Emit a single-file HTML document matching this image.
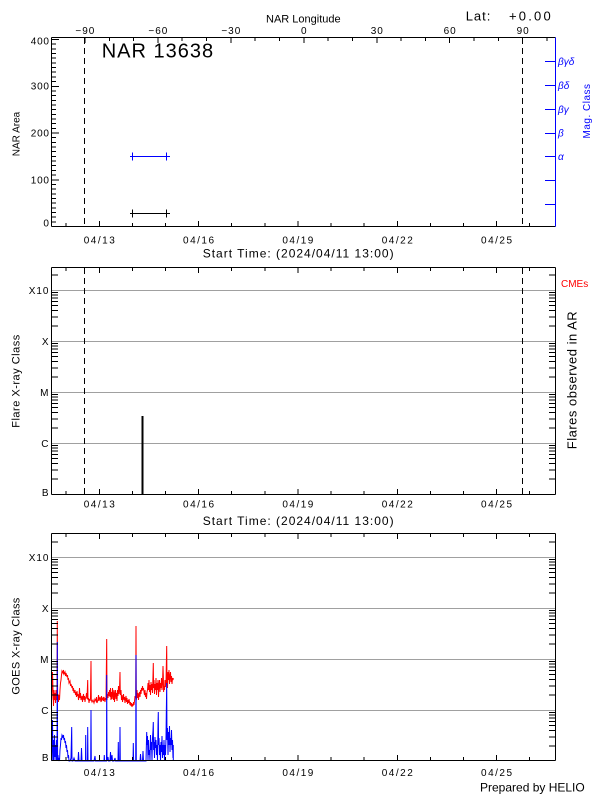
<!DOCTYPE html>
<html><head><meta charset="utf-8"><style>html,body{margin:0;padding:0;background:#fff}svg{display:block}</style></head>
<body>
<svg xmlns="http://www.w3.org/2000/svg" width="600" height="800" viewBox="0 0 600 800" font-family="Liberation Sans, sans-serif">
<rect width="600" height="800" fill="#fff"/>

<!-- ================= TOP PANEL ================= -->
<g shape-rendering="crispEdges" stroke="#000" stroke-width="1" fill="none">
  <path d="M51.5 37.5V226.5M51.5 37.5H555.5M51.5 226.5H555.5"/>
  <!-- y ticks -->
  <path d="M52 226.5h7M52 221.8h4M52 217.2h4M52 212.5h4M52 207.8h4M52 203.1h4M52 198.5h4M52 193.8h4M52 189.1h4M52 184.4h4M52 179.75h7M52 175.1h4M52 170.4h4M52 165.7h4M52 161h4M52 156.4h4M52 151.7h4M52 147h4M52 142.3h4M52 137.7h4M52 133h7M52 128.3h4M52 123.65h4M52 119h4M52 114.3h4M52 109.6h4M52 104.95h4M52 100.3h4M52 95.6h4M52 90.9h4M52 86.25h7M52 81.6h4M52 76.9h4M52 72.2h4M52 67.55h4M52 62.9h4M52 58.2h4M52 53.5h4M52 48.85h4M52 44.2h4M52 39.5h7"/>
  <!-- bottom day ticks -->
  <path d="M66.2 226v-3M99.3 226v-5M132.4 226v-3M165.5 226v-3M198.6 226v-5M231.7 226v-3M264.8 226v-3M297.9 226v-5M331 226v-3M364.2 226v-3M397.3 226v-5M430.4 226v-3M463.5 226v-3M496.6 226v-5M529.7 226v-3"/>
  <!-- top longitude ticks -->
  <path d="M84.9 38v5M109.3 38v3M133.6 38v3M157.9 38v5M182.2 38v3M206.6 38v3M230.8 38v5M255.2 38v3M279.5 38v3M303.8 38v5M328.1 38v3M352.4 38v3M376.8 38v5M401.1 38v3M425.4 38v3M449.7 38v5M474 38v3M498.4 38v3M522.7 38v5M547 38v3"/>
</g>
<g stroke="#000" stroke-width="1" stroke-dasharray="6,4" shape-rendering="crispEdges">
  <line x1="84.5" y1="38" x2="84.5" y2="226"/>
  <line x1="522.5" y1="38" x2="522.5" y2="226"/>
</g>
<g stroke="#0000ff" stroke-width="1" shape-rendering="crispEdges" fill="none">
  <path d="M555.5 37.5V226.5"/>
  <path d="M545 61.5h10M545 85.5h10M545 109.5h10M545 133.5h10M545 156.5h10M545 180.5h10M545 204.5h10"/>
  <!-- blue errorbar -->
  <path d="M130 156.5H170M132.5 152.5v8M166.5 152.5v8"/>
</g>
<g stroke="#000" stroke-width="1" shape-rendering="crispEdges" fill="none">
  <path d="M130 213.5H170M132.5 209.5v8M166.5 209.5v8"/>
</g>

<text x="266" y="22.7" font-size="11">NAR Longitude</text>
<text x="465.7" y="20.7" font-size="13" letter-spacing="1">Lat:</text>
<text x="509" y="20.7" font-size="13" letter-spacing="2.2">+0.00</text>
<text x="101.7" y="57.3" font-size="20" letter-spacing="1">NAR 13638</text>

<g font-size="10" letter-spacing="1" text-anchor="middle">
  <text x="85.4" y="34">−90</text>
  <text x="158.4" y="34">−60</text>
  <text x="231.3" y="34">−30</text>
  <text x="304.3" y="34">0</text>
  <text x="377.3" y="34">30</text>
  <text x="450.2" y="34">60</text>
  <text x="523.2" y="34">90</text>
</g>
<g font-size="10" letter-spacing="0.8" text-anchor="end">
  <text x="49.8" y="44.6">400</text>
  <text x="49.8" y="89.6">300</text>
  <text x="49.8" y="136.3">200</text>
  <text x="49.8" y="183.6">100</text>
  <text x="49.8" y="226.3">0</text>
</g>
<g font-size="10" font-style="italic" fill="#0000ff">
  <text x="558" y="64.8">βγδ</text>
  <text x="558" y="89">βδ</text>
  <text x="558" y="112.8">βγ</text>
  <text x="558" y="136.5">β</text>
  <text x="558" y="160.2">α</text>
</g>
<text transform="translate(590,111) rotate(-90)" text-anchor="middle" font-size="10" fill="#0000ff" letter-spacing="0.5">Mag. Class</text>
<text transform="translate(19.5,134) rotate(-90)" text-anchor="middle" font-size="10">NAR Area</text>

<g font-size="10" letter-spacing="1.5" text-anchor="middle">
  <text x="100" y="243.3">04/13</text>
  <text x="199.3" y="243.3">04/16</text>
  <text x="298.6" y="243.3">04/19</text>
  <text x="398" y="243.3">04/22</text>
  <text x="497.3" y="243.3">04/25</text>
</g>
<text x="202.7" y="257.7" font-size="12" letter-spacing="1">Start Time: (2024/04/11 13:00)</text>

<!-- ================= MIDDLE PANEL ================= -->
<g shape-rendering="crispEdges" stroke="#a0a0a0" stroke-width="1">
  <path d="M52 290.5H555M52 341.5H555M52 392.5H555M52 443.5H555"/>
</g>
<g shape-rendering="crispEdges" stroke="#000" stroke-width="1" fill="none">
  <path d="M51.5 267.5V494.5M555.5 267.5V494.5M51.5 267.5H555.5M51.5 494.5H555.5"/>
  <!-- left log ticks -->
  <path d="M52 478.9h6M52 470h6M52 463.6h6M52 458.6h6M52 454.6h6M52 451.2h6M52 448.2h6M52 445.6h6M52 428h6M52 419h6M52 412.6h6M52 407.7h6M52 403.6h6M52 400.2h6M52 397.2h6M52 394.6h6M52 377h6M52 368h6M52 361.6h6M52 356.7h6M52 352.6h6M52 349.2h6M52 346.2h6M52 343.6h6M52 326h6M52 317h6M52 310.6h6M52 305.7h6M52 301.6h6M52 298.2h6M52 295.2h6M52 292.6h6M52 275h6"/>
  <!-- right log ticks -->
  <path d="M549 478.9h6M549 470h6M549 463.6h6M549 458.6h6M549 454.6h6M549 451.2h6M549 448.2h6M549 445.6h6M549 428h6M549 419h6M549 412.6h6M549 407.7h6M549 403.6h6M549 400.2h6M549 397.2h6M549 394.6h6M549 377h6M549 368h6M549 361.6h6M549 356.7h6M549 352.6h6M549 349.2h6M549 346.2h6M549 343.6h6M549 326h6M549 317h6M549 310.6h6M549 305.7h6M549 301.6h6M549 298.2h6M549 295.2h6M549 292.6h6M549 275h6"/>
  <!-- top day ticks -->
  <path d="M66.2 268v3M99.3 268v5M132.4 268v3M165.5 268v3M198.6 268v5M231.7 268v3M264.8 268v3M297.9 268v5M331 268v3M364.2 268v3M397.3 268v5M430.4 268v3M463.5 268v3M496.6 268v5M529.7 268v3"/>
  <!-- bottom day ticks -->
  <path d="M66.2 494v-3M99.3 494v-5M132.4 494v-3M165.5 494v-3M198.6 494v-5M231.7 494v-3M264.8 494v-3M297.9 494v-5M331 494v-3M364.2 494v-3M397.3 494v-5M430.4 494v-3M463.5 494v-3M496.6 494v-5M529.7 494v-3"/>
</g>
<g stroke="#000" stroke-width="1" stroke-dasharray="6,4" shape-rendering="crispEdges">
  <line x1="84.5" y1="268" x2="84.5" y2="494"/>
  <line x1="522.5" y1="268" x2="522.5" y2="494"/>
</g>
<rect x="141.3" y="416" width="2" height="78" fill="#000" shape-rendering="crispEdges"/>

<g font-size="10" letter-spacing="1" text-anchor="end">
  <text x="49.5" y="294">X10</text>
  <text x="49.5" y="345">X</text>
  <text x="49.5" y="396">M</text>
  <text x="49.5" y="447">C</text>
  <text x="49.5" y="496">B</text>
</g>
<text transform="translate(19.5,381) rotate(-90)" text-anchor="middle" font-size="11" letter-spacing="0.5">Flare X-ray Class</text>
<text x="561" y="287" font-size="10" fill="#ff0000">CMEs</text>
<text transform="translate(576.5,380) rotate(-90)" text-anchor="middle" font-size="13" letter-spacing="0.5">Flares observed in AR</text>
<g font-size="10" letter-spacing="1.5" text-anchor="middle">
  <text x="100" y="507.6">04/13</text>
  <text x="199.3" y="507.6">04/16</text>
  <text x="298.6" y="507.6">04/19</text>
  <text x="398" y="507.6">04/22</text>
  <text x="497.3" y="507.6">04/25</text>
</g>
<text x="202.7" y="525" font-size="12" letter-spacing="1">Start Time: (2024/04/11 13:00)</text>

<!-- ================= BOTTOM PANEL ================= -->
<g shape-rendering="crispEdges" stroke="#a0a0a0" stroke-width="1">
  <path d="M52 557.5H555M52 608.5H555M52 659.5H555M52 710.5H555"/>
</g>

<!-- GOES data -->
<polyline fill="none" stroke="#ff0000" stroke-width="1" points="51.7,700 52.5,672 53,690 53.5,706 54,690 54.5,700 55,693 55.5,703 56,690 56.5,700 57,698 57.3,621 57.6,700 58,694 58.5,702 59,695 59.5,700 60,690 60.5,683 61,680 61.5,675 62,671 63,673 63.5,670 64,674 65,672 65.5,676 66,673 67,677 67.5,675 68,680 68.5,678 69,683 70,681 70.5,686 71,684 72,688 72.5,686 73,691 73.5,688 74,693 75,690 75.5,695 76,692 76.5,697 77,691 77.5,696 78,694 78.5,700 79,697 79.5,688 80,698 80.5,693 81,700 82,696 82.5,702 83,697 83.5,694 84,700 84.5,696 85,702 85.5,698 86,697 86.5,693 87,699 87.7,680 88,700 88.5,698 89,703 89.5,699 90,701 90.5,697 91,661 91.3,700 92,702 93,700 94,703 95,699 96,701 96.5,697 97,703 98,700 98.5,695 99,701 100,697 101,702 101.5,696 102,700 103,698 103.5,701 104,697 105,702 105.5,698 106,700 106.7,639 107,700 107.5,694 108,698 108.5,692 109,696 109.5,690 110,697 110.5,688 111,700 111.5,692 112,699 112.5,688 113,695 113.5,700 114,690 114.5,702 115,694 115.5,690 116,699 116.5,693 117,701 117.5,690 118,696 118.5,686 119,694 119.5,689 120,672 120.3,695 121,690 121.5,700 122,695 122.5,702 123,698 123.5,694 124,700 124.5,697 125,703 125.5,699 126,696 126.5,702 127,698 127.5,704 128,700 128.5,703 129,699 130,705 130.5,702 131,706 131.5,703 132,707 132.5,704 133,706 133.5,702 134,705 134.5,701 135,696 135.7,698 136,626 136.3,700 136.7,697 137,690 137.5,698 138,693 138.5,700 139,695 139.5,692 140,697 140.5,690 141,694 141.5,688 142,691 142.5,686 143,690 143.5,688 144,692 144.5,695 145,690 145.5,697 146,693 146.5,699 147,692 147.5,690 148,683 148.5,690 149,680 149.5,692 150,685 150.5,695 151,682 151.5,690 152,684 152.5,693 153,675 153.3,663 153.6,688 154,680 154.5,694 155,684 155.5,690 156,678 156.5,695 157,683 157.5,690 158,680 158.5,697 159,685 159.5,680 160,692 160.5,683 161,688 161.5,678 162,690 162.5,684 163,666 163.3,675 163.6,692 164,686 164.5,690 165,680 165.5,687 166,683 166.7,646 167,684 167.5,688 168,672 168.5,680 169,670 169.5,684 170,676 170.5,672 171,682 171.5,676 172,684 172.5,678 173,680 173.3,678"/>
<polyline fill="none" stroke="#0000ff" stroke-width="1" points="51.7,761 52,745 52.5,720 53,761 53.5,740 54,761 54.5,735 55,757 55.5,745 56,761 56.5,740 57,761 57.3,642 57.6,761 58,755 58.5,761 59,758 59.5,761 60,750 60.5,745 61,738 61.5,740 62,735 62.5,736 63,738 63.5,735 64,740 64.5,738 65,743 65.5,741 66,748 66.5,745 67,752 67.5,750 68,758 68.5,755 69,761 70,761 71,758 71.7,727 72,761 73,761 74,758 75,761 78,761 78.5,752 79,761 81,761 81.5,748 82,761 85.5,761 85.7,735 86,761 87.5,761 87.7,727 88,761 90.7,761 91,710 91.3,761 94,761 95,756 95.5,761 104,761 104.3,755 104.6,761 106.5,761 106.7,675 107,761 108,757 108.5,761 110,761 110.5,752 111,761 112,755 112.5,761 114,761 115,758 115.5,761 118,761 118.3,742 118.6,761 119.7,761 120,727 120.3,761 133,761 133.3,743 133.6,761 135.7,761 136,655 136.3,761 140,761 140.5,754 141,761 142.5,761 143,751 143.5,761 146,761 146.7,732 147,745 147.5,736 148,761 148.5,740 149,755 149.5,750 150,761 150.5,735 151,750 151.5,742 152,761 152.5,738 153,730 153.3,722 153.6,750 154,742 154.5,758 155,737 155.5,748 156,740 156.5,755 157,745 157.5,761 158,725 158.3,712 158.6,745 159,738 159.5,755 160,745 160.5,761 161,742 161.5,752 162,736 162.5,758 163,745 163.5,755 164,740 164.5,761 165,745 165.5,755 166,738 166.7,683 167,740 167.5,728 168,755 168.5,732 169,745 169.5,726 170,752 170.5,738 171,745 171.5,730 172,750 172.5,740 173,758 173.3,745 173.3,761"/>

<g shape-rendering="crispEdges" stroke="#000" stroke-width="1" fill="none">
  <path d="M51.5 533.5V760.5M555.5 533.5V760.5M51.5 533.5H555.5M51.5 760.5H555.5"/>
  <path d="M52 745.9h6M52 737h6M52 730.6h6M52 725.7h6M52 721.6h6M52 718.2h6M52 715.2h6M52 712.6h6M52 695h6M52 686h6M52 679.6h6M52 674.7h6M52 670.6h6M52 667.2h6M52 664.2h6M52 661.6h6M52 644h6M52 635h6M52 628.6h6M52 623.7h6M52 619.6h6M52 616.2h6M52 613.2h6M52 610.6h6M52 593h6M52 584h6M52 577.6h6M52 572.7h6M52 568.6h6M52 565.2h6M52 562.2h6M52 559.6h6M52 542h6"/>
  <path d="M549 745.9h6M549 737h6M549 730.6h6M549 725.7h6M549 721.6h6M549 718.2h6M549 715.2h6M549 712.6h6M549 695h6M549 686h6M549 679.6h6M549 674.7h6M549 670.6h6M549 667.2h6M549 664.2h6M549 661.6h6M549 644h6M549 635h6M549 628.6h6M549 623.7h6M549 619.6h6M549 616.2h6M549 613.2h6M549 610.6h6M549 593h6M549 584h6M549 577.6h6M549 572.7h6M549 568.6h6M549 565.2h6M549 562.2h6M549 559.6h6M549 542h6"/>
  <path d="M66.2 534v3M99.3 534v5M132.4 534v3M165.5 534v3M198.6 534v5M231.7 534v3M264.8 534v3M297.9 534v5M331 534v3M364.2 534v3M397.3 534v5M430.4 534v3M463.5 534v3M496.6 534v5M529.7 534v3"/>
  <path d="M66.2 760v-3M99.3 760v-5M132.4 760v-3M165.5 760v-3M198.6 760v-5M231.7 760v-3M264.8 760v-3M297.9 760v-5M331 760v-3M364.2 760v-3M397.3 760v-5M430.4 760v-3M463.5 760v-3M496.6 760v-5M529.7 760v-3"/>
</g>

<g font-size="10" letter-spacing="1" text-anchor="end">
  <text x="49.5" y="561">X10</text>
  <text x="49.5" y="612">X</text>
  <text x="49.5" y="663">M</text>
  <text x="49.5" y="714">C</text>
  <text x="49.5" y="761">B</text>
</g>
<text transform="translate(19.5,646) rotate(-90)" text-anchor="middle" font-size="11" letter-spacing="0.35">GOES X-ray Class</text>
<g font-size="10" letter-spacing="1.5" text-anchor="middle">
  <text x="100" y="776">04/13</text>
  <text x="199.3" y="776">04/16</text>
  <text x="298.6" y="776">04/19</text>
  <text x="398" y="776">04/22</text>
  <text x="497.3" y="776">04/25</text>
</g>
<text x="480" y="791.7" font-size="12">Prepared by HELIO</text>
</svg>
</body></html>
